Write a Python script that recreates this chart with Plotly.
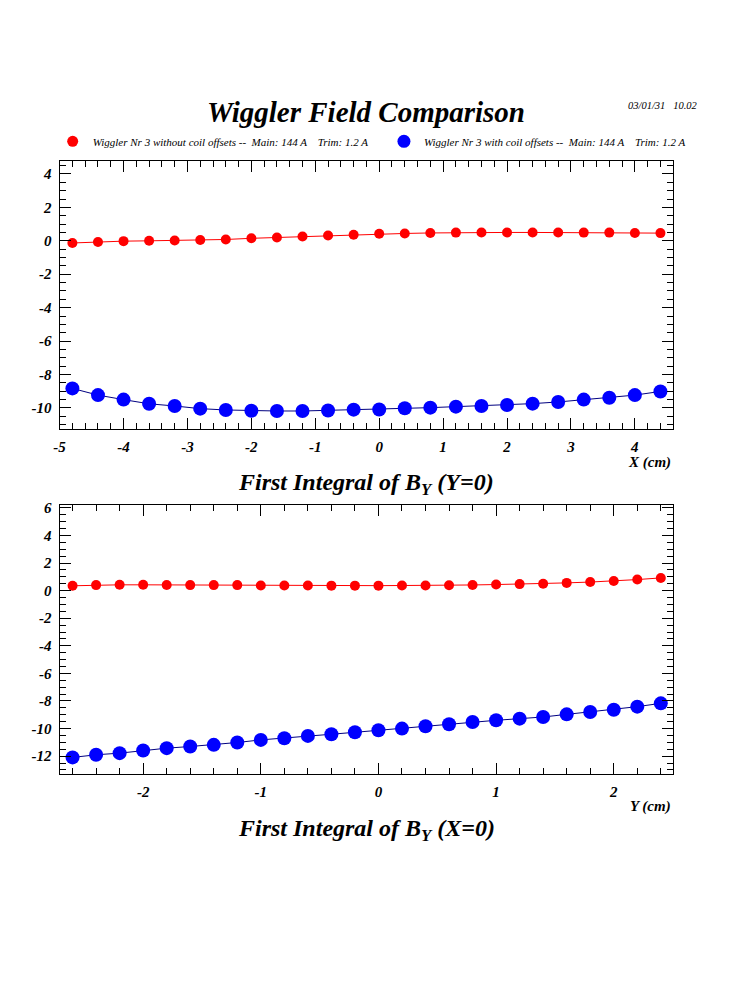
import plotly.graph_objects as go

# scan along X at Y=0
x_scan = [-4.8, -4.4, -4.0, -3.6, -3.2, -2.8, -2.4, -2.0, -1.6, -1.2, -0.8, -0.4,
          0.0, 0.4, 0.8, 1.2, 1.6, 2.0, 2.4, 2.8, 3.2, 3.6, 4.0, 4.4]
x_no_offset = [-0.13, -0.07, -0.02, 0.0, 0.02, 0.05, 0.08, 0.15, 0.2, 0.26, 0.32, 0.36,
               0.42, 0.44, 0.47, 0.49, 0.5, 0.5, 0.5, 0.5, 0.49, 0.49, 0.47, 0.46]
x_offset = [-8.83, -9.23, -9.5, -9.75, -9.88, -10.04, -10.12, -10.17, -10.18, -10.18, -10.15, -10.1,
            -10.09, -10.02, -9.98, -9.92, -9.88, -9.82, -9.74, -9.64, -9.5, -9.39, -9.23, -9.01]

# scan along Y at X=0
y_scan = [-2.6, -2.4, -2.2, -2.0, -1.8, -1.6, -1.4, -1.2, -1.0, -0.8, -0.6, -0.4, -0.2,
          0.0, 0.2, 0.4, 0.6, 0.8, 1.0, 1.2, 1.4, 1.6, 1.8, 2.0, 2.2, 2.4]
y_no_offset = [0.35, 0.4, 0.42, 0.42, 0.41, 0.4, 0.4, 0.4, 0.37, 0.37, 0.37, 0.36, 0.36,
               0.36, 0.37, 0.37, 0.39, 0.41, 0.44, 0.47, 0.5, 0.56, 0.62, 0.7, 0.8, 0.92]
y_offset = [-12.09, -11.9, -11.78, -11.59, -11.42, -11.3, -11.18, -11.01, -10.82, -10.7, -10.53, -10.41, -10.27,
            -10.12, -10.0, -9.83, -9.69, -9.52, -9.4, -9.28, -9.16, -8.97, -8.8, -8.63, -8.41, -8.17]

# tick labels (plain hyphen like the original)
ticks_x1 = [-5, -4, -3, -2, -1, 0, 1, 2, 3, 4]
ticks_y1 = [-10, -8, -6, -4, -2, 0, 2, 4]
ticks_x2 = [-2, -1, 0, 1, 2]
ticks_y2 = [-12, -10, -8, -6, -4, -2, 0, 2, 4, 6]

name_no = "Wiggler Nr 3 without coil offsets --  Main: 144 A    Trim: 1.2 A"
name_off = "Wiggler Nr 3 with coil offsets --  Main: 144 A    Trim: 1.2 A"

RED = "#ff0000"
BLUE = "#0000ff"
SERIF = "Liberation Serif, Times New Roman, serif"

# page body has an 8px margin, so size the figure to fit inside the window
W, H = 734, 984


def px(x):
    return (x - 8) / W


def py(y):
    return 1 - (y - 8) / H


fig = go.Figure()

for xs, ys_no, ys_off, xa, ya in [(x_scan, x_no_offset, x_offset, "x", "y"),
                                   (y_scan, y_no_offset, y_offset, "x2", "y2")]:
    fig.add_trace(go.Scatter(x=xs, y=ys_no, mode="lines+markers", xaxis=xa, yaxis=ya,
                             line=dict(color=RED, width=1),
                             marker=dict(color=RED, size=10), showlegend=False))
    fig.add_trace(go.Scatter(x=xs, y=ys_off, mode="lines+markers", xaxis=xa, yaxis=ya,
                             line=dict(color="#000080", width=1),
                             marker=dict(color=BLUE, size=14), showlegend=False))

# legend entries (dots only)
fig.add_trace(go.Scatter(x=[None], y=[None], mode="markers", name=name_no,
                         marker=dict(color=RED, size=11), legend="legend"))
fig.add_trace(go.Scatter(x=[None], y=[None], mode="markers", name=name_off,
                         marker=dict(color=BLUE, size=13), legend="legend2"))

tickfont = dict(family=SERIF, size=15, color="black", weight="bold", style="italic")


def axis(rng, tickvals, minor_dtick, domain, anchor):
    return dict(range=rng, tickvals=tickvals, ticktext=[str(v) for v in tickvals],
                domain=domain, anchor=anchor,
                showline=True, linecolor="black", linewidth=1, mirror="allticks",
                ticks="inside", ticklen=11, tickcolor="black", tickwidth=1,
                minor=dict(ticks="inside", ticklen=6, dtick=minor_dtick, tick0=0,
                           tickcolor="black"),
                showgrid=False, zeroline=False, tickfont=tickfont, ticklabelstandoff=4)


legend_font = dict(family=SERIF, size=11, color="black", style="italic")

fig.update_layout(
    width=W, height=H,
    margin=dict(l=0, r=0, t=0, b=0),
    paper_bgcolor="white", plot_bgcolor="white",
    xaxis=axis([-5, 4.59], ticks_x1, 0.2, [px(54), px(672)], "y"),
    yaxis=axis([-11.25, 4.76], ticks_y1, 0.5, [py(426), py(157)], "x"),
    xaxis2=axis([-2.71, 2.5], ticks_x2, 0.2, [px(54), px(672)], "y2"),
    yaxis2=axis([-13.3, 6.17], ticks_y2, 0.5, [py(773), py(503)], "x2"),
    legend=dict(x=px(47), y=py(137), xanchor="left", yanchor="middle",
                bgcolor="rgba(0,0,0,0)", font=legend_font),
    legend2=dict(x=px(381), y=py(137), xanchor="left", yanchor="middle",
                 bgcolor="rgba(0,0,0,0)", font=legend_font),
)

title_font = dict(family=SERIF, color="black", weight="bold", style="italic")


def label(text, x, y, size, xanchor="center", font=None):
    fig.add_annotation(text=text, x=px(x), y=py(y), xref="paper", yref="paper",
                       showarrow=False, xanchor=xanchor, yanchor="middle",
                       font=font or dict(size=size, **title_font))


label("Wiggler Field Comparison", 363, 108, 29)
label("03/01/31   10.02", 700, 101, 10, xanchor="right",
      font=dict(family=SERIF, size=10.5, color="black", style="italic"))
label("First Integral of B<sub>Y</sub> (Y=0)", 363, 481, 24)
label("First Integral of B<sub>Y</sub> (X=0)", 363, 829, 24)
label("X (cm)", 672, 460, 15, xanchor="right")
label("Y (cm)", 672, 806, 15, xanchor="right")

fig.write_html("out.html")
